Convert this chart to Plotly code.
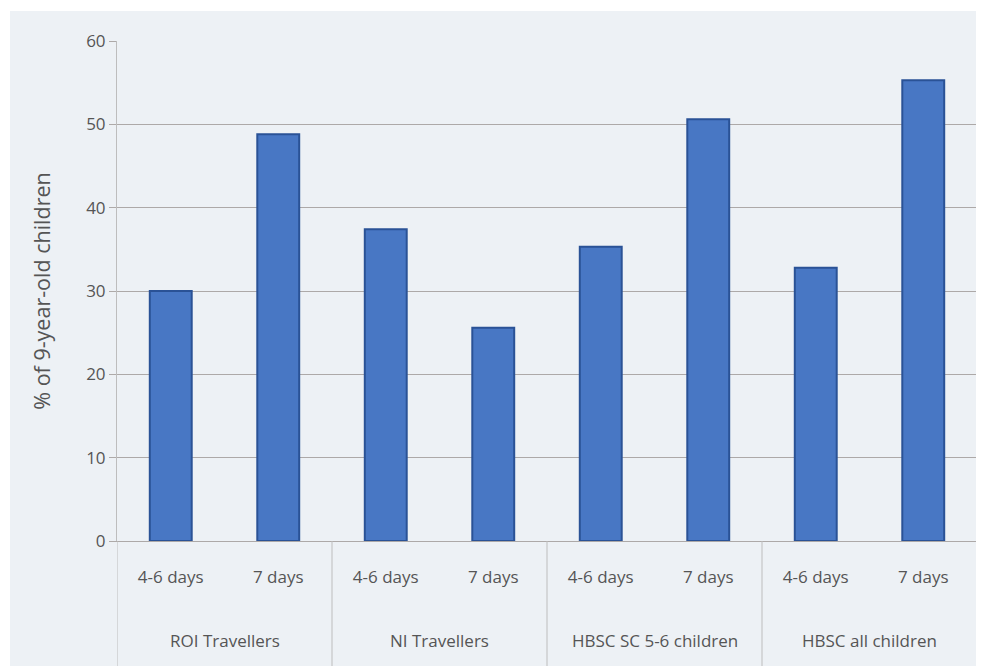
import plotly.graph_objects as go

group_names = ["ROI Travellers", "NI Travellers", "HBSC SC 5-6 children", "HBSC all children"]
day_labels = ["4-6 days", "7 days"]
groups = [g for g in group_names for _ in day_labels]
days = day_labels * len(group_names)
values = [30.0, 48.8, 37.4, 25.6, 35.3, 50.6, 32.8, 55.3]
y_ticks = [0, 10, 20, 30, 40, 50, 60]

text_color = "#555555"
font_family = "Open Sans, Noto Sans, sans-serif"
divider_color = "#BDBDBD"

n_per = len(day_labels)
x_pos = list(range(len(values)))

fig = go.Figure()
fig.add_trace(go.Bar(
    x=x_pos,
    y=values,
    marker=dict(color="#4877C4", line=dict(color="#2A5296", width=2)),
    width=0.39,
    showlegend=False,
    customdata=[[g, d] for g, d in zip(groups, days)],
    hovertemplate="%{customdata[0]} – %{customdata[1]}: %{y}<extra></extra>",
))

shapes = [dict(type="rect", xref="paper", yref="paper",
               x0=-0.1244, x1=1.0035, y0=-0.26, y1=1.06,
               fillcolor="#EDF1F5", line=dict(width=0), layer="below")]
annotations = []
for gi, g in enumerate(group_names):
    start = gi * n_per - 0.5
    end = start + n_per
    shapes.append(dict(type="line", xref="x", yref="paper", x0=start, x1=start,
                       y0=0, y1=-0.25, line=dict(color=divider_color, width=1)))
    annotations.append(dict(x=(start + end) / 2, xref="x", y=-0.198, yref="paper",
                            text=g, showarrow=False, yanchor="middle", xanchor="center",
                            font=dict(size=17, color=text_color)))
last = len(group_names) * n_per - 0.5
shapes.append(dict(type="line", xref="x", yref="paper", x0=last, x1=last,
                   y0=0, y1=-0.25, line=dict(color=divider_color, width=1)))

fig.update_layout(
    width=976, height=658,
    margin=dict(l=109, r=7, t=33, b=125, autoexpand=False),
    paper_bgcolor="white",
    plot_bgcolor="white",
    font=dict(family=font_family, color=text_color, size=17),
    shapes=shapes,
    annotations=annotations,
)

fig.update_yaxes(
    range=[0, 60], tickvals=y_ticks,
    showgrid=True, gridcolor="#ADA9A8", gridwidth=1.2,
    ticks="outside", ticklen=7, tickcolor="#ADA9A8",
    showline=True, linecolor="#BDBDBD", linewidth=1,
    zeroline=False,
    tickfont=dict(size=17, color=text_color),
    title=dict(text="% of 9-year-old children", font=dict(size=21.5, color=text_color), standoff=29),
)

fig.update_xaxes(
    range=[-0.5, len(values) - 0.5],
    tickvals=x_pos, ticktext=days,
    showline=True, linecolor="#ADA9A8", linewidth=1.2,
    ticks="outside", ticklen=20, tickcolor="rgba(0,0,0,0)",
    showgrid=False, zeroline=False,
    tickfont=dict(size=17, color=text_color),
)

fig.write_html("out.html")
